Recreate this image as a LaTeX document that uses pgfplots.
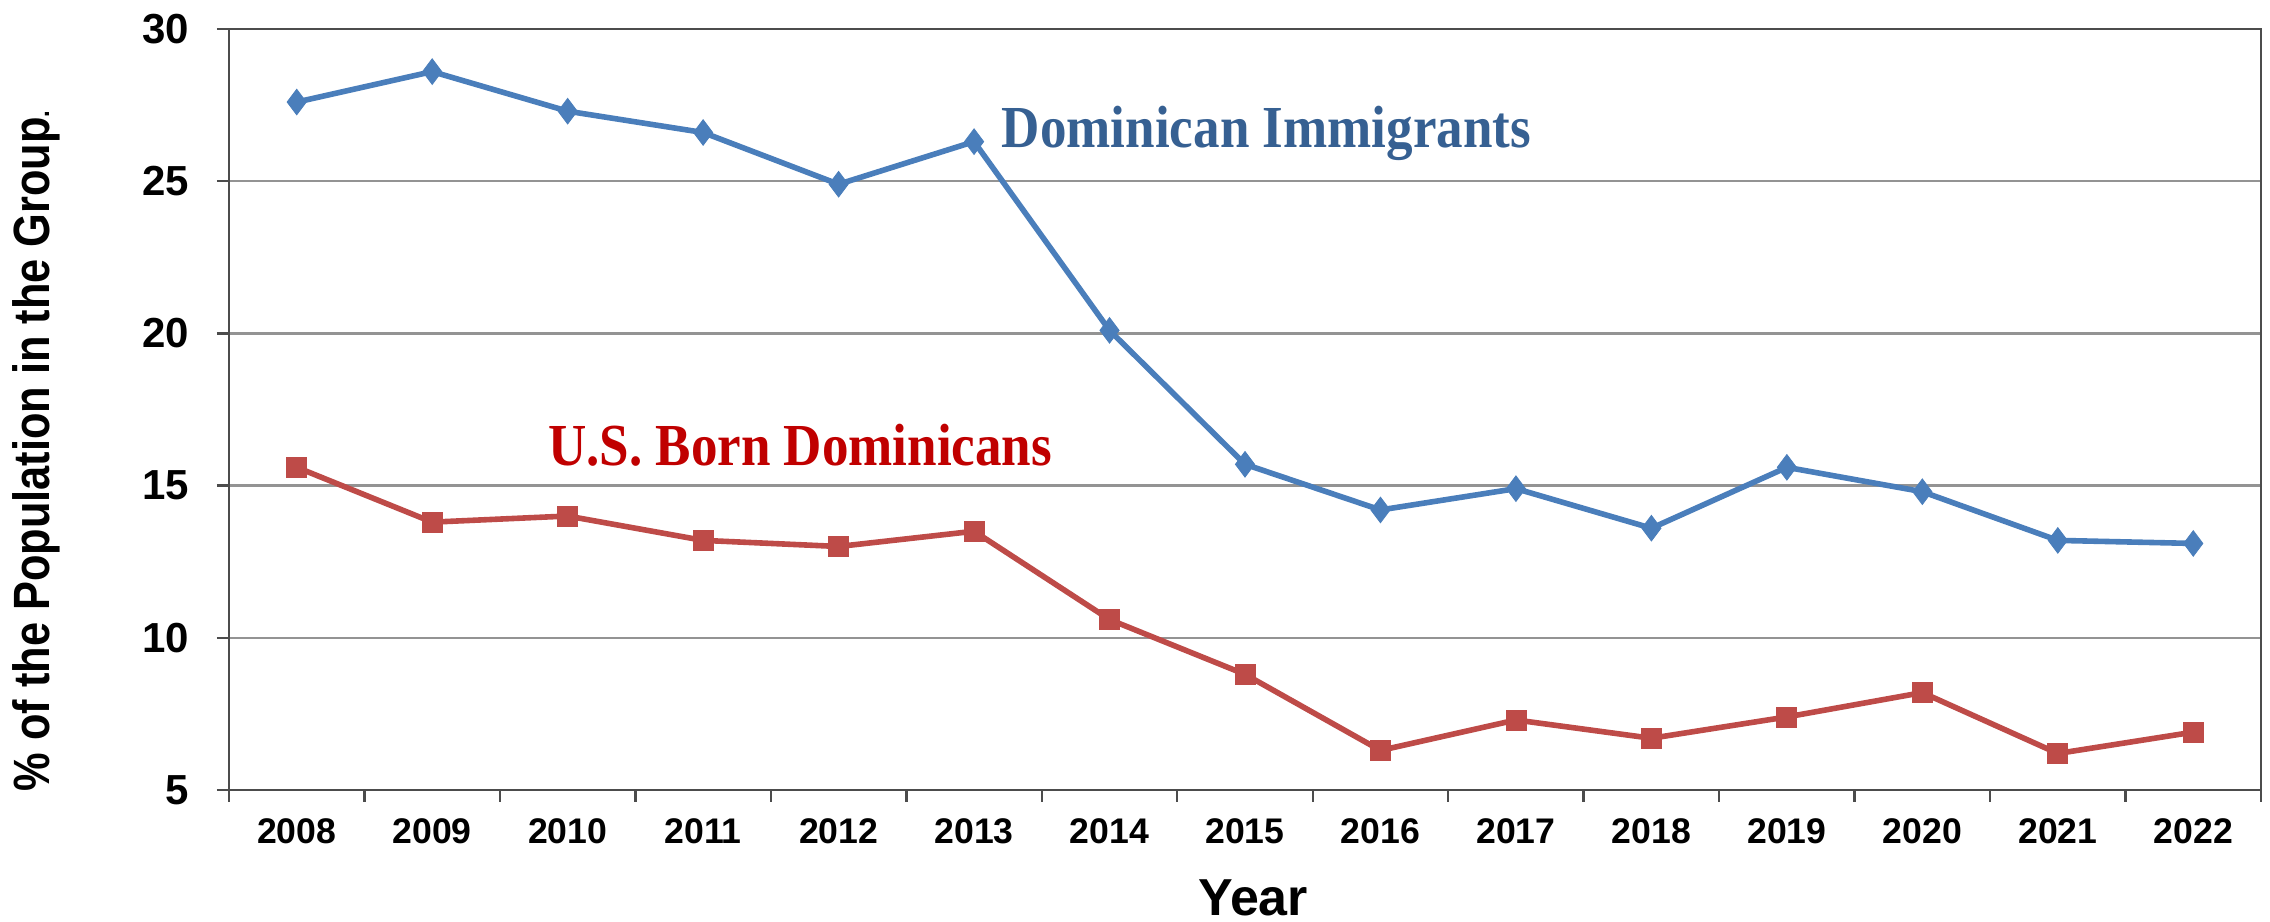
\documentclass[border=0pt]{standalone}
\usepackage{fontspec}
\setmainfont{Liberation Sans}
\newfontfamily\annofont[FakeStretch=0.89]{Liberation Serif}
\newfontfamily\ylabfont[FakeStretch=0.85]{Liberation Sans}
\usepackage{pgfplots}
\pgfplotsset{compat=1.18}

\definecolor{immline}{HTML}{4A7EBB}
\definecolor{usbline}{HTML}{BE4B48}
\definecolor{immtext}{HTML}{366092}
\definecolor{usbtext}{HTML}{C00000}

\begin{document}
\begin{tikzpicture}
\useasboundingbox (-57.25pt,-32.75pt) rectangle (510.25pt,197.5pt);
\begin{axis}[
    at={(0,0)}, anchor=south west,
    scale only axis, width=508pt, height=190.25pt,
    xmin=-0.5, xmax=14.5, ymin=5, ymax=30,
    xtick={-0.5,0.5,...,14.5}, xticklabels={},
    extra x ticks={0,1,...,14},
    extra x tick labels={2008,2009,2010,2011,2012,2013,2014,2015,2016,2017,2018,2019,2020,2021,2022},
    extra x tick style={major tick length=0pt},
    ytick={5,10,...,30},
    xtick pos=left, ytick pos=left,
    tick align=outside, major tick length=3pt,
    ymajorgrids, grid style={draw=gray!85, line width=0.6pt},
    axis line style={draw=black!70, line width=0.7pt},
    tick style={draw=black!70, line width=0.6pt},
    xticklabel style={font=\fontsize{8.9}{10}\selectfont\bfseries, anchor=base, yshift=-13.25pt},
    yticklabel style={font=\fontsize{10.5}{12}\selectfont\bfseries, inner sep=0pt, xshift=-6.75pt},
    /pgf/number format/assume math mode=true,
    ylabel={\% of the Population in the Group{\fontsize{7}{7}\selectfont.}},
    ylabel style={font=\ylabfont\bfseries\fontsize{12.75}{14}\selectfont,
        at={(axis description cs:-0.095,0.4455)}, anchor=center},
    xlabel={Year},
    xlabel style={font=\bfseries\fontsize{13}{15}\selectfont,
        at={(axis description cs:0.504,-0.1643)}, anchor=base},
    clip=false,
]
% Dominican immigrants
\addplot[immline, line width=1.4pt, mark=diamond*, mark size=3.2pt,
    mark options={solid, fill=immline, draw=immline, line width=0.2pt}] coordinates {
    (0,27.6) (1,28.6) (2,27.3) (3,26.6) (4,24.9) (5,26.3) (6,20.1) (7,15.7)
    (8,14.2) (9,14.9) (10,13.6) (11,15.6) (12,14.8) (13,13.2) (14,13.1)
};
% U.S. born Dominicans
\addplot[usbline, line width=1.4pt, mark=square*, mark size=2.5pt,
    mark options={solid, fill=usbline, draw=usbline, line width=0.2pt}] coordinates {
    (0,15.6) (1,13.8) (2,14.0) (3,13.2) (4,13.0) (5,13.5) (6,10.6) (7,8.8)
    (8,6.3) (9,7.3) (10,6.7) (11,7.4) (12,8.2) (13,6.2) (14,6.9)
};
\node[anchor=base west, inner sep=0pt, text=immtext,
    font=\annofont\bfseries\fontsize{14.9}{16}\selectfont]
    at (axis cs:5.2,26.1) {Dominican Immigrants};
\node[anchor=base west, inner sep=0pt, text=usbtext,
    font=\annofont\bfseries\fontsize{14.9}{16}\selectfont]
    at (axis cs:1.85,15.65) {U.S. Born Dominicans};
\end{axis}
\end{tikzpicture}
\end{document}
